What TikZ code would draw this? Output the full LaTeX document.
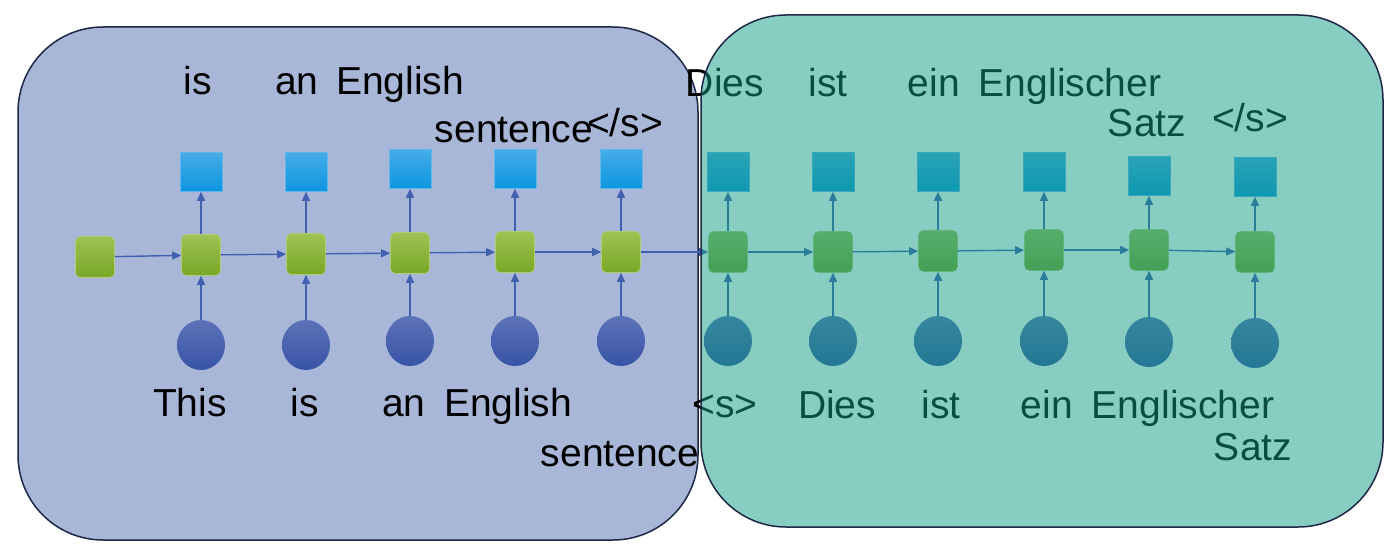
\documentclass[tikz,border=0pt]{standalone}
\usepackage{fontspec}
\setmainfont{Liberation Sans}
\usetikzlibrary{arrows.meta,shapes.geometric}

\definecolor{encback}{RGB}{168,183,216}
\definecolor{decback}{RGB}{17,155,133}
\definecolor{boxline}{RGB}{30,40,70}
\definecolor{hidtop}{RGB}{158,194,84}
\definecolor{hidbot}{RGB}{120,168,38}
\definecolor{outtop}{RGB}{70,172,232}
\definecolor{outbot}{RGB}{12,150,224}
\definecolor{embtop}{RGB}{92,114,184}
\definecolor{embbot}{RGB}{56,84,166}
\definecolor{arrblue}{RGB}{66,96,176}

\begin{document}
\begin{tikzpicture}[x=1pt,y=-1pt]
    \tikzset{
        hstate/.style={
            rectangle,rounded corners=5pt,
            minimum width=39pt,minimum height=41pt,inner sep=0pt,
            top color=hidtop,bottom color=hidbot,
            draw=hidtop!80!white,line width=0.6pt
        },
        outbox/.style={
            rectangle,
            minimum width=42pt,minimum height=39pt,inner sep=0pt,
            top color=outtop,bottom color=outbot,
            draw=outtop!85!white,line width=0.6pt
        },
        embnode/.style={
            ellipse,
            minimum width=48pt,minimum height=50pt,inner sep=0pt,
            top color=embtop,bottom color=embbot
        },
        word/.style={
            anchor=base,inner sep=0pt,text=black,
            font=\fontsize{39}{44}\selectfont
        },
        arr/.style={
            draw=arrblue,line width=1.4pt,
            -{Triangle[length=9pt,width=8pt]}
        },
        frame/.style={
            rounded corners=85pt,draw=boxline,line width=1.5pt
        }
    }

    \useasboundingbox (0,0) rectangle (1397,553);

    % encoder side
    \path[frame,fill=encback] (18,27) rectangle (698,540);

    \node[hstate] (h0) at (95,257) {};
    \node[hstate] (h1) at (201,255) {};
    \node[hstate] (h2) at (306,254) {};
    \node[hstate] (h3) at (410,253) {};
    \node[hstate] (h4) at (515,252) {};
    \node[hstate] (h5) at (621,252) {};
    \node[hstate] (d1) at (728,252) {};
    \node[hstate] (d2) at (833,252) {};
    \node[hstate] (d3) at (938,251) {};
    \node[hstate] (d4) at (1044,250) {};
    \node[hstate] (d5) at (1149,250) {};
    \node[hstate] (d6) at (1255,252) {};

    \node[outbox] (o1) at (201,172) {};
    \node[outbox] (o2) at (306,172) {};
    \node[outbox] (o3) at (410,169) {};
    \node[outbox] (o4) at (515,169) {};
    \node[outbox] (o5) at (621,169) {};
    \node[outbox] (p1) at (728,172) {};
    \node[outbox] (p2) at (833,172) {};
    \node[outbox] (p3) at (938,172) {};
    \node[outbox] (p4) at (1044,172) {};
    \node[outbox] (p5) at (1149,176) {};
    \node[outbox] (p6) at (1255,177) {};

    \node[embnode] (e1) at (201,345) {};
    \node[embnode] (e2) at (306,345) {};
    \node[embnode] (e3) at (410,341) {};
    \node[embnode] (e4) at (515,341) {};
    \node[embnode] (e5) at (621,341) {};
    \node[embnode] (f1) at (728,341) {};
    \node[embnode] (f2) at (833,341) {};
    \node[embnode] (f3) at (938,341) {};
    \node[embnode] (f4) at (1044,341) {};
    \node[embnode] (f5) at (1149,342) {};
    \node[embnode] (f6) at (1255,343) {};

    % recurrence
    \draw[arr] (h0) -- (h1);
    \draw[arr] (h1) -- (h2);
    \draw[arr] (h2) -- (h3);
    \draw[arr] (h3) -- (h4);
    \draw[arr] (h4) -- (h5);
    \draw[arr] (h5) -- (d1);
    \draw[arr] (d1) -- (d2);
    \draw[arr] (d2) -- (d3);
    \draw[arr] (d3) -- (d4);
    \draw[arr] (d4) -- (d5);
    \draw[arr] (d5) -- (d6);

    % inputs and outputs
    \draw[arr] (e1) -- (h1);
    \draw[arr] (e2) -- (h2);
    \draw[arr] (e3) -- (h3);
    \draw[arr] (e4) -- (h4);
    \draw[arr] (e5) -- (h5);
    \draw[arr] (f1) -- (d1);
    \draw[arr] (f2) -- (d2);
    \draw[arr] (f3) -- (d3);
    \draw[arr] (f4) -- (d4);
    \draw[arr] (f5) -- (d5);
    \draw[arr] (f6) -- (d6);
    \draw[arr] (h1) -- (o1);
    \draw[arr] (h2) -- (o2);
    \draw[arr] (h3) -- (o3);
    \draw[arr] (h4) -- (o4);
    \draw[arr] (h5) -- (o5);
    \draw[arr] (d1) -- (p1);
    \draw[arr] (d2) -- (p2);
    \draw[arr] (d3) -- (p3);
    \draw[arr] (d4) -- (p4);
    \draw[arr] (d5) -- (p5);
    \draw[arr] (d6) -- (p6);

    % words
    \node[word] (to1) at (198,95) {is};
    \node[word] (to2) at (297,95) {an};
    \node[word] (to3) at (400,95) {English};
    \node[word] (to4) at (514,143) {sentence};
    \node[word] (to5) at (625,137) {\textless/s\textgreater};
    \node[word] (tp1) at (725,97) {Dies};
    \node[word] (tp2) at (828,97) {ist};
    \node[word] (tp3) at (934,97) {ein};
    \node[word] (tp4) at (1070,97) {Englischer};
    \node[word] (tp5) at (1147,137) {Satz};
    \node[word] (tp6) at (1250,132) {\textless/s\textgreater};

    \node[word] (ti1) at (190,416) {This};
    \node[word] (ti2) at (305,416) {is};
    \node[word] (ti3) at (404,416) {an};
    \node[word] (ti4) at (508,416) {English};
    \node[word] (ti5) at (620,466) {sentence};
    \node[word] (tj1) at (725,417) {\textless s\textgreater};
    \node[word] (tj2) at (837,418) {Dies};
    \node[word] (tj3) at (941,418) {ist};
    \node[word] (tj4) at (1047,418) {ein};
    \node[word] (tj5) at (1183,418) {Englischer};
    \node[word] (tj6) at (1253,460) {Satz};

    % decoder side, laid over
    \path[frame,fill=decback,fill opacity=0.5] (701,15) rectangle (1383,527);
\end{tikzpicture}
\end{document}
